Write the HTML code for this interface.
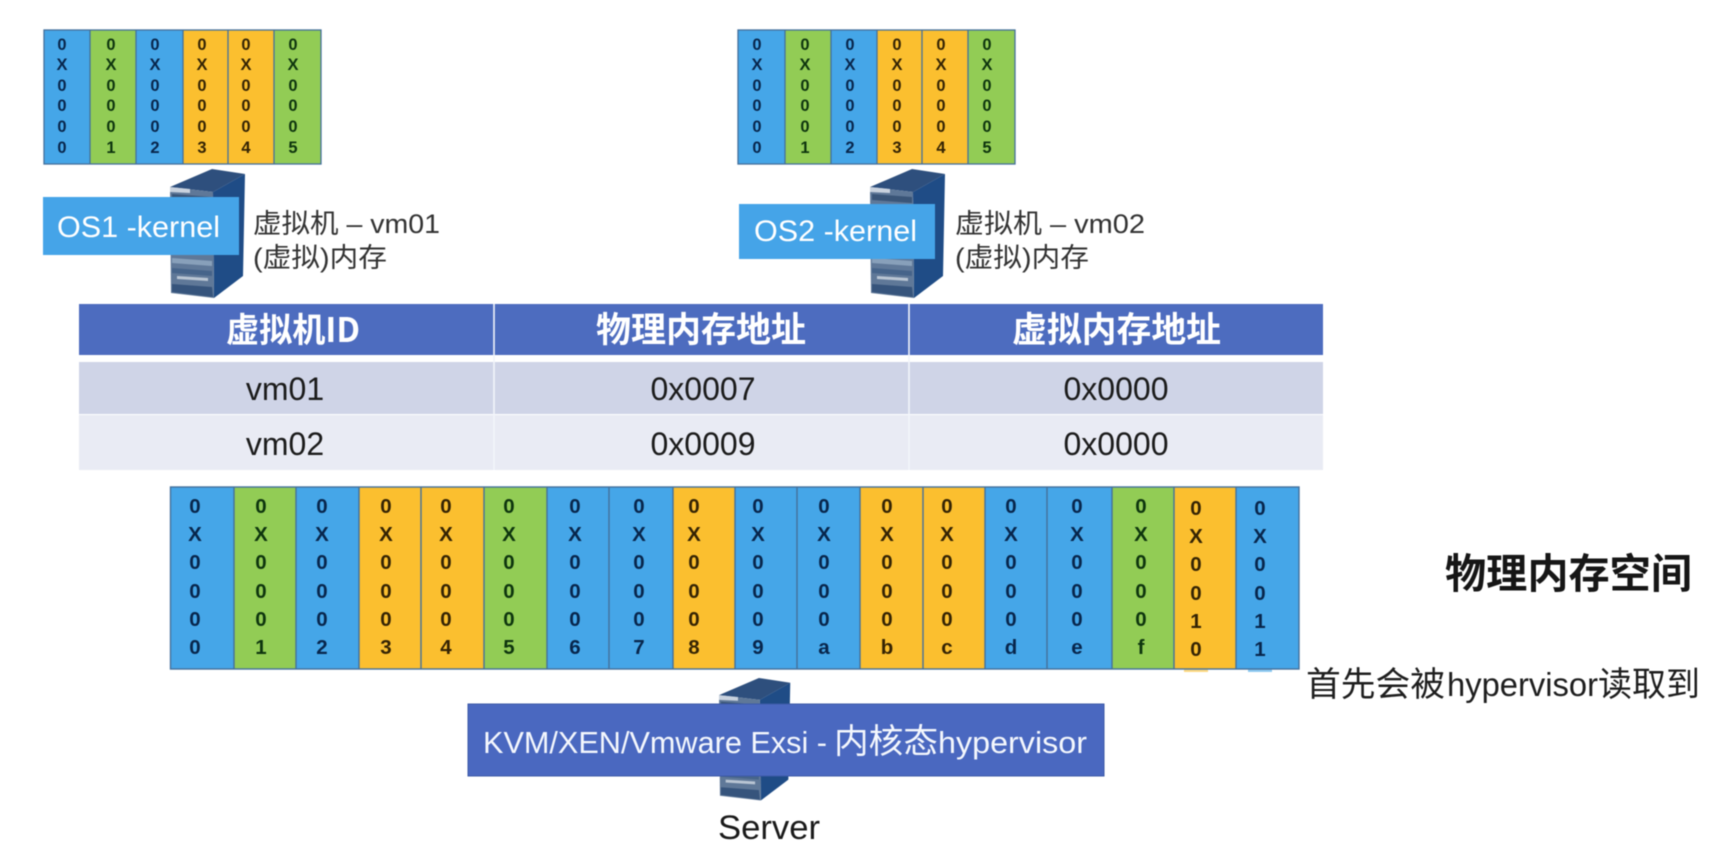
<!DOCTYPE html>
<html lang="zh">
<head>
<meta charset="utf-8">
<title>Memory mapping diagram</title>
<style>
html,body{margin:0;padding:0;background:#fff;}
#p{position:relative;width:1710px;height:848px;overflow:hidden;background:#fff;filter:blur(0.6px);font-family:"Liberation Sans","Noto Sans CJK SC",sans-serif;}
svg{position:absolute;left:0;top:0;}
text{font-family:"Liberation Sans","Noto Sans CJK SC",sans-serif;}
.cj{font-family:"Noto Sans CJK SC","Liberation Sans",sans-serif;}
.c{position:absolute;width:40px;text-align:center;font-weight:700;}
.t .c{font-size:16.5px;line-height:20.6px;top:34.7px;}
.b .c{font-size:20.5px;line-height:28.2px;top:492.9px;}
.cb{color:#08264c;}.cg{color:#0e350e;}.cy{color:#352404;}
</style>
</head>
<body>
<div id="p">
<svg width="1710" height="848" viewBox="0 0 1710 848" xmlns="http://www.w3.org/2000/svg">
<defs>
<g id="srv">
<polygon points="170,187 212,169 245,174 213,192" fill="#2e4f7d"/>
<polygon points="213,192 245,174 243,276 214,298" fill="#1f4c86"/>
<polygon points="170,187 213,192 214,298 171,293" fill="#5f7898"/>
<polygon points="170,187 190,189 190,193 170,192" fill="#c9d2de"/>
<polygon points="172,194 212,197 212,203 172,200" fill="#3a5578"/>
<polygon points="172,258 212,261 212,266 172,263" fill="#88a0ba"/>
<polygon points="172,268 212,271 212,276 172,273" fill="#46648a"/>
<polygon points="177,276 208,278 208,281 177,279" fill="#b9c5d3"/>
<polygon points="172,284 212,287 213,297 172,292" fill="#36547c"/>
</g>
</defs>

<!-- top-left bank -->
<rect x="44" y="30" width="46" height="134" fill="#45a6e8"/>
<rect x="90" y="30" width="46" height="134" fill="#92cc55"/>
<rect x="136" y="30" width="47" height="134" fill="#45a6e8"/>
<rect x="183" y="30" width="45" height="134" fill="#fbbf2f"/>
<rect x="228" y="30" width="46" height="134" fill="#fbbf2f"/>
<rect x="274" y="30" width="47" height="134" fill="#92cc55"/>
<g stroke="#44709c" stroke-width="1.3">
<path d="M90 30V164M136 30V164M183 30V164M228 30V164M274 30V164"/>
<rect x="44" y="30" width="277" height="134" fill="none"/>
</g>

<!-- top-right bank -->
<rect x="738" y="30" width="47" height="134" fill="#45a6e8"/>
<rect x="785" y="30" width="46" height="134" fill="#92cc55"/>
<rect x="831" y="30" width="46" height="134" fill="#45a6e8"/>
<rect x="877" y="30" width="45" height="134" fill="#fbbf2f"/>
<rect x="922" y="30" width="46" height="134" fill="#fbbf2f"/>
<rect x="968" y="30" width="47" height="134" fill="#92cc55"/>
<g stroke="#44709c" stroke-width="1.3">
<path d="M785 30V164M831 30V164M877 30V164M922 30V164M968 30V164"/>
<rect x="738" y="30" width="277" height="134" fill="none"/>
</g>

<!-- servers -->
<use href="#srv"/>
<use href="#srv" transform="translate(700,0)"/>
<use href="#srv" transform="translate(557.5,517.45) scale(.95)"/>

<!-- OS boxes -->
<rect x="43" y="197" width="196" height="58" fill="#45a4e8"/>
<text x="57" y="237" font-size="30" fill="#fff" textLength="163" lengthAdjust="spacingAndGlyphs">OS1 -kernel</text>
<rect x="739" y="204" width="196" height="55" fill="#45a4e8"/>
<text x="754" y="241" font-size="30" fill="#fff" textLength="163" lengthAdjust="spacingAndGlyphs">OS2 -kernel</text>

<!-- VM labels -->
<text x="253" y="233" font-size="27" fill="#333" textLength="187" lengthAdjust="spacingAndGlyphs">虚拟机 – vm01</text>
<text x="253" y="267" font-size="27" fill="#333" textLength="134" lengthAdjust="spacingAndGlyphs">(虚拟)内存</text>
<text x="955" y="233" font-size="27" fill="#333" textLength="190" lengthAdjust="spacingAndGlyphs">虚拟机 – vm02</text>
<text x="955" y="267" font-size="27" fill="#333" textLength="134" lengthAdjust="spacingAndGlyphs">(虚拟)内存</text>

<!-- table -->
<rect x="79" y="304" width="1244" height="51" fill="#4d6cbf"/>
<rect x="79" y="362" width="1244" height="52" fill="#cfd4e7"/>
<rect x="79" y="415" width="1244" height="55" fill="#e9ebf4"/>
<path d="M494 304V470M909 304V470" stroke="#f2f5fb" stroke-width="1.6"/>
<text class="cj" x="226" y="342" font-size="34" font-weight="700" fill="#fff" textLength="134" lengthAdjust="spacingAndGlyphs">虚拟机ID</text>
<text class="cj" x="596" y="342" font-size="35" font-weight="700" fill="#fff" textLength="210" lengthAdjust="spacingAndGlyphs">物理内存地址</text>
<text class="cj" x="1012" y="342" font-size="35" font-weight="700" fill="#fff" textLength="209" lengthAdjust="spacingAndGlyphs">虚拟内存地址</text>
<g font-size="32" fill="#1b1b1b" text-anchor="middle">
<text x="285" y="400">vm01</text>
<text x="285" y="455">vm02</text>
<text x="703" y="400">0x0007</text>
<text x="703" y="455">0x0009</text>
<text x="1116" y="400">0x0000</text>
<text x="1116" y="455">0x0000</text>
</g>

<!-- physical bank -->
<rect x="1184" y="668" width="24" height="4" fill="#fbbf2f" opacity=".6"/>
<rect x="1248" y="668" width="24" height="4" fill="#45a6e8" opacity=".6"/>
<rect x="170.5" y="487" width="63.5" height="182" fill="#45a6e8"/>
<rect x="234" y="487" width="62" height="182" fill="#92cc55"/>
<rect x="296" y="487" width="63" height="182" fill="#45a6e8"/>
<rect x="359" y="487" width="62" height="182" fill="#fbbf2f"/>
<rect x="421" y="487" width="63" height="182" fill="#fbbf2f"/>
<rect x="484" y="487" width="63" height="182" fill="#92cc55"/>
<rect x="547" y="487" width="62" height="182" fill="#45a6e8"/>
<rect x="609" y="487" width="64" height="182" fill="#45a6e8"/>
<rect x="673" y="487" width="62" height="182" fill="#fbbf2f"/>
<rect x="735" y="487" width="62" height="182" fill="#45a6e8"/>
<rect x="797" y="487" width="63" height="182" fill="#45a6e8"/>
<rect x="860" y="487" width="63" height="182" fill="#fbbf2f"/>
<rect x="923" y="487" width="62" height="182" fill="#fbbf2f"/>
<rect x="985" y="487" width="62" height="182" fill="#45a6e8"/>
<rect x="1047" y="487" width="65" height="182" fill="#45a6e8"/>
<rect x="1112" y="487" width="62" height="182" fill="#92cc55"/>
<rect x="1174" y="487" width="62" height="182" fill="#fbbf2f"/>
<rect x="1236" y="487" width="63" height="182" fill="#45a6e8"/>
<g stroke="#44709c" stroke-width="1.4">
<path d="M234 487V669M296 487V669M359 487V669M421 487V669M484 487V669M547 487V669M609 487V669M673 487V669M735 487V669M797 487V669M860 487V669M923 487V669M985 487V669M1047 487V669M1112 487V669M1174 487V669M1236 487V669"/>
<rect x="170.5" y="487" width="1128.5" height="182" fill="none"/>
</g>

<!-- hypervisor bar -->
<rect x="468" y="704" width="636" height="72" fill="#4a68c0" stroke="#3d5aa8" stroke-width="1"/>
<g fill="#f4f7fd">
<text x="483" y="753" font-size="31" textLength="344" lengthAdjust="spacingAndGlyphs">KVM/XEN/Vmware Exsi -</text>
<text class="cj" x="834" y="753" font-size="34" textLength="104" lengthAdjust="spacingAndGlyphs">内核态</text>
<text x="938" y="753" font-size="31" textLength="149" lengthAdjust="spacingAndGlyphs">hypervisor</text>
</g>
<text x="718" y="839" font-size="34" fill="#1a1a1a" textLength="102" lengthAdjust="spacingAndGlyphs">Server</text>

<!-- right labels -->
<text class="cj" x="1445" y="588" font-size="41" font-weight="700" fill="#161616" textLength="247" lengthAdjust="spacingAndGlyphs">物理内存空间</text>
<g fill="#1e1e1e">
<text class="cj" x="1306" y="696" font-size="34" textLength="139" lengthAdjust="spacingAndGlyphs">首先会被</text>
<text x="1447" y="696" font-size="33" textLength="151" lengthAdjust="spacingAndGlyphs">hypervisor</text>
<text class="cj" x="1598" y="696" font-size="34" textLength="102" lengthAdjust="spacingAndGlyphs">读取到</text>
</g>
</svg>

<div class="t">
<div class="c cb" style="left:42px">0<br>X<br>0<br>0<br>0<br>0</div>
<div class="c cg" style="left:91px">0<br>X<br>0<br>0<br>0<br>1</div>
<div class="c cb" style="left:135px">0<br>X<br>0<br>0<br>0<br>2</div>
<div class="c cy" style="left:182px">0<br>X<br>0<br>0<br>0<br>3</div>
<div class="c cy" style="left:226px">0<br>X<br>0<br>0<br>0<br>4</div>
<div class="c cg" style="left:273px">0<br>X<br>0<br>0<br>0<br>5</div>
<div class="c cb" style="left:737px">0<br>X<br>0<br>0<br>0<br>0</div>
<div class="c cg" style="left:785px">0<br>X<br>0<br>0<br>0<br>1</div>
<div class="c cb" style="left:830px">0<br>X<br>0<br>0<br>0<br>2</div>
<div class="c cy" style="left:877px">0<br>X<br>0<br>0<br>0<br>3</div>
<div class="c cy" style="left:921px">0<br>X<br>0<br>0<br>0<br>4</div>
<div class="c cg" style="left:967px">0<br>X<br>0<br>0<br>0<br>5</div>
</div>

<div class="b">
<div class="c cb" style="left:175px">0<br>X<br>0<br>0<br>0<br>0</div>
<div class="c cg" style="left:241px">0<br>X<br>0<br>0<br>0<br>1</div>
<div class="c cb" style="left:302px">0<br>X<br>0<br>0<br>0<br>2</div>
<div class="c cy" style="left:366px">0<br>X<br>0<br>0<br>0<br>3</div>
<div class="c cy" style="left:426px">0<br>X<br>0<br>0<br>0<br>4</div>
<div class="c cg" style="left:489px">0<br>X<br>0<br>0<br>0<br>5</div>
<div class="c cb" style="left:555px">0<br>X<br>0<br>0<br>0<br>6</div>
<div class="c cb" style="left:619px">0<br>X<br>0<br>0<br>0<br>7</div>
<div class="c cy" style="left:674px">0<br>X<br>0<br>0<br>0<br>8</div>
<div class="c cb" style="left:738px">0<br>X<br>0<br>0<br>0<br>9</div>
<div class="c cb" style="left:804px">0<br>X<br>0<br>0<br>0<br>a</div>
<div class="c cy" style="left:867px">0<br>X<br>0<br>0<br>0<br>b</div>
<div class="c cy" style="left:927px">0<br>X<br>0<br>0<br>0<br>c</div>
<div class="c cb" style="left:991px">0<br>X<br>0<br>0<br>0<br>d</div>
<div class="c cb" style="left:1057px">0<br>X<br>0<br>0<br>0<br>e</div>
<div class="c cg" style="left:1121px">0<br>X<br>0<br>0<br>0<br>f</div>
<div class="c cy" style="left:1176px;top:495px">0<br>X<br>0<br>0<br>1<br>0</div>
<div class="c cb" style="left:1240px;top:495px">0<br>X<br>0<br>0<br>1<br>1</div>
</div>
</div>
</body>
</html>
